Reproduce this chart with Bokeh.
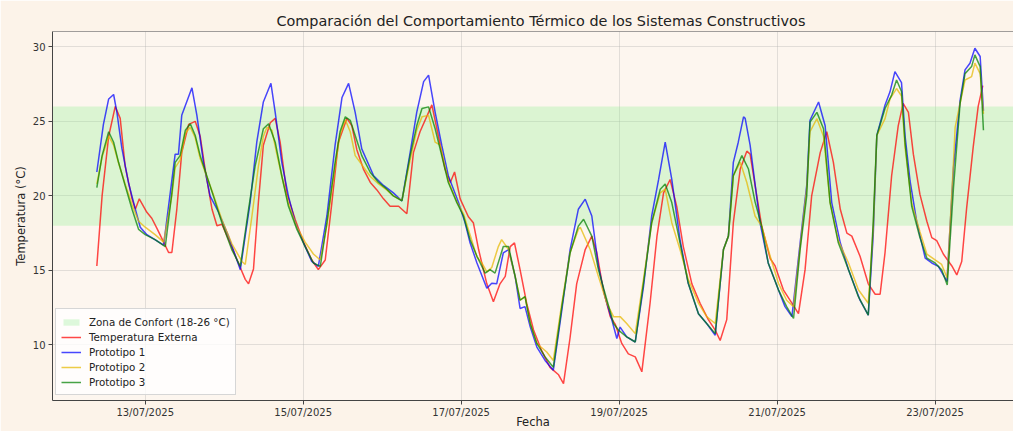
from datetime import datetime, timedelta
from bokeh.plotting import figure
from bokeh.models import (Range1d, FixedTicker, Legend, LegendItem,
                          Span, DatetimeTickFormatter)
from bokeh.embed import file_html
from bokeh.resources import INLINE

# ---------------- data (hours counted from 12/07/2025 00:00) ----------------
start_day = datetime(2025, 7, 12)

ext_hours = [9.3, 10.9, 12.9, 14.9, 16.4, 17.9, 20.0, 21.0, 22.2, 24.5, 26.0, 27.6, 29.6, 31.1, 32.1,
             33.6, 35.1, 37.2, 39.2, 40.7, 42.2, 44.3, 45.8, 47.3, 49.3, 52.3, 54.4, 55.4, 56.9, 58.4,
             59.9, 62.0, 63.5, 65.0, 67.0, 69.6, 72.1, 74.6, 76.6, 78.7, 80.7, 82.7, 85.3, 86.8, 88.3,
             90.3, 92.4, 94.4, 96.4, 98.4, 101.0, 103.5, 105.5, 107.5, 110.1, 111.1, 113.1, 115.1, 116.7,
             118.0, 119.7, 122.2, 123.7, 125.3, 127.8, 129.8, 131.8, 133.4, 134.9, 136.2, 137.9, 139.9,
             142.0, 144.5, 147.0, 149.6, 151.1, 153.1, 155.1, 157.7, 159.7, 161.2, 163.2, 165.3, 166.8,
             168.8, 170.8, 172.9, 174.9, 177.4, 179.5, 181.5, 183.5, 185.5, 187.5, 190.1, 192.6, 195.1,
             197.2, 198.7, 200.7, 202.7, 204.8, 206.8, 207.8, 209.3, 211.3, 213.9, 215.4, 217.9, 220.5,
             222.5, 224.5, 226.5, 229.1, 231.1, 233.1, 235.2, 237.2, 238.7, 241.2, 243.7, 245.8, 247.3,
             248.8, 250.8, 252.8, 254.3, 255.9, 257.4, 259.4, 261.5, 263.0, 264.5, 266.5, 269.1, 270.6,
             272.1, 273.6, 275.6, 277.1, 278.5]
ext_temp = [15.3, 20.0, 24.0, 26.0, 25.2, 22.0, 19.8, 19.1, 19.8, 18.9, 18.5, 17.8, 16.9, 16.2, 16.2,
            19.1, 22.9, 24.8, 25.0, 24.0, 21.8, 19.1, 18.0, 18.1, 17.1, 15.5, 14.4, 14.1, 15.1, 19.6,
            23.4, 24.9, 25.2, 23.6, 20.2, 18.4, 16.9, 15.7, 15.05, 15.7, 19.5, 23.6, 25.2, 24.7, 23.1,
            21.8, 20.9, 20.4, 19.8, 19.3, 19.3, 18.8, 22.9, 24.3, 25.6, 26.1, 24.0, 21.8, 20.9,
            21.6, 19.8, 18.6, 18.2, 16.4, 14.1, 12.9, 14.1, 14.6, 16.6, 16.85, 15.05, 12.8,
            11.0, 9.6, 8.5, 8.0, 7.4, 10.5, 14.1, 16.4, 17.3, 16.2, 13.7, 11.9, 11.4,
            10.1, 9.4, 9.2, 8.2, 12.8, 17.3, 20.2, 21.1, 19.3, 16.6, 14.1, 12.8, 11.7,
            11.0, 10.3, 11.7, 18.2, 21.8, 23.0, 22.8, 20.7, 18.0, 15.8, 15.3, 13.7, 12.8,
            12.1, 15.05, 20.0, 22.9, 24.3, 22.25, 19.1, 17.5, 17.3, 15.95, 14.1, 13.4, 13.4,
            16.2, 21.35, 24.7, 26.2, 25.6, 22.8, 20.1, 18.3, 17.2, 17.0, 16.1, 15.3, 14.7,
            15.6, 19.2, 23.3, 26.0, 27.4]

p1_hours = [9.3, 11.3, 12.9, 14.4, 15.4, 16.9, 18.9, 21.0, 22.5, 24.5, 29.6, 33.1, 34.1, 35.1, 38.2,
            39.7, 41.7, 43.7, 46.3, 49.3, 52.9, 55.9, 57.9, 59.9, 62.2, 63.5, 65.5, 67.5, 69.6, 72.1,
            74.6, 76.6, 79.2, 81.7, 83.8, 85.8, 87.8, 89.8, 93.4, 96.4, 99.4, 102.0, 104.5, 106.5,
            108.6, 110.1, 112.1, 114.1, 116.1, 119.2, 121.2, 122.7, 124.8, 127.8, 129.3, 130.8, 132.8,
            134.4, 136.4, 137.9, 139.4, 141.0, 143.0, 145.5, 148.0, 150.6, 153.1, 155.6, 157.7, 159.7,
            161.7, 163.7, 165.8, 167.3, 168.3, 170.3, 172.9, 175.4, 177.9, 180.0, 182.0, 184.0, 186.5,
            189.0, 192.1, 194.6, 197.2, 199.7, 201.2, 202.7, 204.2, 205.8, 206.3, 207.8, 210.8, 213.3,
            216.4, 218.4, 220.5, 223.0, 225.0, 226.0, 228.6, 230.6, 232.6, 235.2, 237.7, 241.2, 243.7,
            245.2, 246.3, 248.8, 250.3, 251.8, 253.8, 254.9, 256.4, 258.4, 261.0, 263.0, 265.0, 267.6,
            269.6, 271.6, 273.1, 274.6, 276.1, 277.7, 278.7]
p1_temp = [21.6, 24.8, 26.5, 26.8, 25.6, 23.2, 20.9, 19.1, 17.9, 17.4, 16.7, 22.8, 22.8, 25.4, 27.25,
           25.4, 22.25, 20.0, 18.9, 17.3, 15.05, 19.6, 23.6, 26.3, 27.55, 25.6, 22.25, 20.0, 18.2, 16.85,
           15.6, 15.27, 18.65, 23.4, 26.6, 27.55, 25.6, 23.15, 21.35, 20.7, 20.2, 19.66, 22.9, 25.6,
           27.66, 28.1, 25.6, 23.4, 21.35, 19.55, 18.2, 16.85, 15.5, 13.8, 14.14, 14.1, 16.17,
           16.4, 14.6, 12.45, 12.57, 11.2, 9.86, 8.96, 8.3, 12.35, 16.4, 19.1, 19.78, 18.65,
           15.27, 13.24, 11.67, 10.43, 11.2, 10.54, 10.2, 13.9, 18.65, 21.1, 23.6, 21.1, 17.07,
           14.14, 12.1, 11.44, 10.65, 16.4, 17.3, 22.25, 23.6, 25.3, 25.2, 23.4, 18.2, 15.5,
           13.7, 12.57, 11.9, 16.85, 20.7, 25.07, 26.3, 24.7, 19.55, 16.85, 15.05, 13.0, 12.0,
           17.3, 24.05, 26.1, 26.98, 28.33, 27.6, 24.0, 21.0, 18.3, 15.83, 15.5, 15.27, 14.26,
           21.9, 26.4, 28.45, 28.9, 29.9, 29.35, 25.7]

p2_hours = [9.3, 10.9, 12.9, 14.4, 15.9, 17.9, 20.0, 22.0, 24.0, 27.0, 29.6, 32.1, 33.1, 34.6, 36.2,
            37.7, 39.2, 40.7, 42.7, 44.7, 47.3, 50.3, 53.4, 54.4, 56.4, 58.4, 59.9, 61.0, 62.5, 64.0,
            65.5, 67.5, 70.1, 72.6, 75.1, 77.2, 79.2, 81.7, 83.2, 84.8, 86.3, 87.8, 89.8, 92.4, 94.9,
            97.4, 99.4, 102.0, 104.5, 106.5, 108.1, 110.1, 112.1, 113.6, 116.1, 118.7, 120.7, 122.7,
            124.8, 126.3, 127.8, 129.3, 131.3, 132.3, 134.4, 136.4, 137.9, 139.4, 141.0, 143.0, 146.0,
            148.0, 150.6, 153.1, 155.6, 156.2, 159.2, 161.7, 164.3, 166.3, 168.3, 170.3, 172.9, 175.4,
            177.9, 180.5, 182.0, 184.0, 186.5, 189.0, 192.1, 194.6, 197.2, 199.7, 201.2, 202.7, 204.8,
            206.8, 209.3, 211.3, 213.9, 216.4, 218.9, 221.0, 223.0, 225.0, 226.0, 228.1, 230.1, 232.1,
            234.6, 237.7, 240.7, 243.7, 245.2, 246.3, 248.8, 250.3, 252.3, 253.8, 254.9, 256.9, 259.4,
            261.5, 264.0, 266.0, 267.7, 269.6, 270.1, 271.6, 273.1, 275.1, 276.1, 277.7, 278.7]
p2_temp = [20.8, 22.6, 24.0, 23.4, 22.2, 20.8, 19.4, 18.3, 17.9, 17.4, 16.9, 20.0, 21.9, 22.4, 24.2,
           24.6, 23.9, 22.5, 21.3, 20.1, 18.4, 16.8, 15.6, 15.4, 18.6, 22.0, 24.0, 24.6, 24.4, 22.8,
           21.3, 19.5, 17.9, 16.9, 16.1, 15.7, 18.0, 22.0, 24.1, 25.1, 24.3, 22.7, 22.1, 21.3, 20.8,
           20.4, 20.0, 19.7, 22.4, 24.4, 25.3, 25.4, 23.6, 23.4, 21.0, 19.6, 18.8, 17.4,
           15.9, 15.5, 14.9, 15.2, 16.6, 17.07, 16.4, 14.6, 13.0, 13.24, 11.44, 10.1, 9.53,
           8.96, 12.8, 16.2, 17.75, 17.9, 16.4, 14.6, 12.8, 11.9, 11.9, 11.44, 10.76, 14.4,
           18.2, 20.2, 20.45, 18.2, 16.4, 14.4, 12.8, 11.9, 11.44, 16.4, 17.3, 21.35, 22.25,
           20.9, 18.65, 17.97, 15.95, 14.14, 13.0, 12.57, 16.6, 20.5, 24.3, 25.18, 24.0, 19.55,
           17.0, 15.5, 13.7, 12.8, 17.75, 24.05, 25.18, 26.5, 27.2, 26.7, 23.2, 19.5, 17.6,
           16.1, 15.7, 15.4, 14.48, 22.3, 24.6, 26.2, 27.77, 28.0, 28.9, 28.2, 25.5]

p3_hours = [9.3, 10.9, 12.9, 14.4, 15.9, 17.9, 20.0, 22.0, 24.0, 27.0, 30.1, 32.1, 33.1, 34.6, 36.2,
            37.7, 39.2, 40.7, 42.7, 44.7, 47.3, 50.3, 52.9, 55.4, 57.4, 59.9, 61.5, 63.5, 65.5, 67.5,
            70.1, 72.6, 75.1, 77.2, 79.2, 81.7, 83.2, 84.8, 86.3, 87.8, 89.8, 92.4, 94.9, 97.4, 99.4,
            102.0, 104.5, 106.5, 108.1, 110.1, 112.1, 114.1, 116.1, 118.7, 120.7, 122.7, 124.8, 127.3,
            128.8, 130.3, 132.8, 134.4, 136.4, 137.9, 139.4, 141.0, 143.0, 145.5, 148.0, 150.6, 153.1,
            155.6, 157.2, 159.7, 161.7, 164.3, 166.3, 167.8, 170.3, 172.9, 175.4, 177.9, 180.5, 182.0,
            184.0, 186.5, 189.0, 192.1, 194.6, 197.2, 199.7, 201.2, 202.7, 205.3, 207.3, 209.3, 211.3,
            213.3, 216.4, 218.9, 221.0, 223.0, 225.0, 226.0, 228.1, 230.1, 232.1, 234.6, 237.7, 240.7,
            243.7, 245.2, 246.3, 248.8, 250.8, 252.3, 253.8, 254.9, 256.9, 259.4, 261.5, 264.0, 266.0,
            267.7, 269.6, 271.6, 273.1, 275.1, 276.1, 277.7, 278.7]
p3_temp = [20.56, 22.7, 24.3, 23.6, 22.25, 20.7, 19.1, 17.75, 17.4, 17.07, 16.6, 20.2, 22.25, 22.7, 24.4,
           24.84, 24.05, 22.7, 21.35, 20.0, 18.2, 16.4, 15.27, 19.1, 22.0, 24.5, 24.84, 23.6, 21.35, 19.32,
           17.75, 16.6, 15.5, 15.27, 18.2, 22.25, 24.3, 25.3, 25.07, 24.05, 22.7, 21.57, 20.9, 20.45, 20.0,
           19.66, 22.7, 24.7, 25.86, 25.97, 24.5, 22.7, 20.9, 19.55, 18.65, 17.07, 15.95, 14.82,
           15.05, 14.82, 16.6, 16.6, 14.6, 13.0, 13.24, 11.44, 10.1, 9.2, 8.5, 12.57, 16.17,
           17.97, 18.43, 17.3, 15.05, 13.0, 11.44, 11.0, 10.54, 10.2, 14.14, 18.2, 20.45, 20.8,
           19.55, 16.85, 14.14, 12.1, 11.44, 10.76, 16.4, 17.3, 21.35, 22.7, 21.8, 19.6, 17.97,
           15.5, 13.7, 12.57, 11.78, 16.4, 20.0, 24.95, 25.6, 24.5, 19.55, 16.85, 15.05, 13.24,
           12.0, 18.2, 24.05, 25.86, 26.76, 27.77, 27.0, 23.5, 19.3, 17.2, 15.83, 15.5, 15.05,
           14.03, 20.56, 26.2, 28.2, 28.67, 29.46, 28.67, 24.4]

comfort_low = 18
comfort_high = 26
tick_dates = ["2025-07-13", "2025-07-15", "2025-07-17", "2025-07-19", "2025-07-21", "2025-07-23"]
y_ticks = [10, 15, 20, 25, 30]

series_names = ["Temperatura Externa", "Prototipo 1", "Prototipo 2", "Prototipo 3"]
series_colors = ["red", "blue", "#e6b800", "green"]

# ---------------- build ----------------
def to_dt(hours):
    return [start_day + timedelta(hours=h) for h in hours]

all_hours = ext_hours + p1_hours + p2_hours + p3_hours
all_temp = ext_temp + p1_temp + p2_temp + p3_temp
h_pad = 0.05 * (max(all_hours) - min(all_hours))
t_pad = 0.05 * (max(all_temp) - min(all_temp))
visible_hours = 292.0  # the view is cut at the right edge like the reference
x_start = start_day + timedelta(hours=min(all_hours) - h_pad)
x_full_end = start_day + timedelta(hours=max(all_hours) + h_pad)
x_end = x_start + timedelta(hours=visible_hours)
y_start = min(all_temp) - t_pad
y_end = max(all_temp) + t_pad

FONT = "DejaVu Sans"

p = figure(width=1013, height=431, x_axis_type="datetime", output_backend="svg",
           toolbar_location=None, x_range=Range1d(x_start, x_end),
           y_range=Range1d(y_start, y_end),
           min_border_left=52, min_border_right=0, min_border_top=31, min_border_bottom=31,
           background_fill_color="#fdf6ef", border_fill_color="#fcf3e9",
           outline_line_color=None)

p.title.text = "Comparación del Comportamiento Térmico de los Sistemas Constructivos"
p.title.align = "left"
p.title.offset = 224
p.title.standoff = 5
p.title.text_font = FONT
p.title.text_font_size = "14.4px"
p.title.text_font_style = "normal"
p.title.text_color = "#222222"

zone = p.quad(left=[x_start], right=[x_full_end], bottom=[comfort_low], top=[comfort_high],
              fill_color="#90ee90", fill_alpha=0.3, line_color=None)

renderers = []
for hrs, tmp, col in [(ext_hours, ext_temp, series_colors[0]),
                      (p1_hours, p1_temp, series_colors[1]),
                      (p2_hours, p2_temp, series_colors[2]),
                      (p3_hours, p3_temp, series_colors[3])]:
    r = p.line(to_dt(hrs), tmp, line_color=col, line_alpha=0.72, line_width=1.5)
    renderers.append(r)

# ticks / grid
tick_ms = [(datetime.strptime(d, "%Y-%m-%d") - datetime(1970, 1, 1)).total_seconds() * 1000
           for d in tick_dates]
p.xaxis.ticker = FixedTicker(ticks=tick_ms)
fmt = "%d/%m/%Y"
p.xaxis.formatter = DatetimeTickFormatter(microseconds=fmt, milliseconds=fmt, seconds=fmt,
                                          minsec=fmt, minutes=fmt, hourmin=fmt, hours=fmt,
                                          days=fmt, months=fmt, years=fmt)
p.yaxis.ticker = FixedTicker(ticks=y_ticks)

for ax in (p.xaxis[0], p.yaxis[0]):
    ax.major_label_text_font = FONT
    ax.major_label_text_font_size = "10px"
    ax.major_label_text_color = "#333333"
    ax.major_tick_out = 4
    ax.major_tick_in = 0
    ax.minor_tick_line_color = None
    ax.axis_line_color = "#444444"
    ax.major_tick_line_color = "#444444"
    ax.axis_label_text_font = FONT
    ax.axis_label_text_font_size = "11.5px"
    ax.axis_label_text_font_style = "normal"
    ax.axis_label_text_color = "#222222"

p.yaxis.major_label_standoff = 3
p.yaxis.axis_label = "Temperatura (°C)"
p.yaxis.axis_label_standoff = 2

p.xaxis.major_label_standoff = 2
p.xaxis.axis_label = "Fecha"
p.xaxis.axis_label_standoff = -6

p.xgrid.grid_line_color = "#b0b0b0"
p.xgrid.grid_line_alpha = 0.35
p.ygrid.grid_line_color = "#b0b0b0"
p.ygrid.grid_line_alpha = 0.35

top_spine = Span(location=y_end, dimension="width", line_color="#444444", line_width=1)
p.add_layout(top_spine)

items = [LegendItem(label="Zona de Confort (18-26 °C)", renderers=[zone])]
for name, r in zip(series_names, renderers):
    items.append(LegendItem(label=name, renderers=[r]))
legend = Legend(items=items, location=(3, 5), margin=0, padding=5, spacing=0,
                glyph_width=20, glyph_height=8, label_height=15, label_standoff=8,
                label_text_font=FONT, label_text_font_size="10.3px", label_text_color="#222222",
                background_fill_color="white", background_fill_alpha=0.8,
                border_line_color="#cccccc", border_line_alpha=0.8)
p.add_layout(legend)

open("out.html", "w").write(file_html(p, INLINE))
